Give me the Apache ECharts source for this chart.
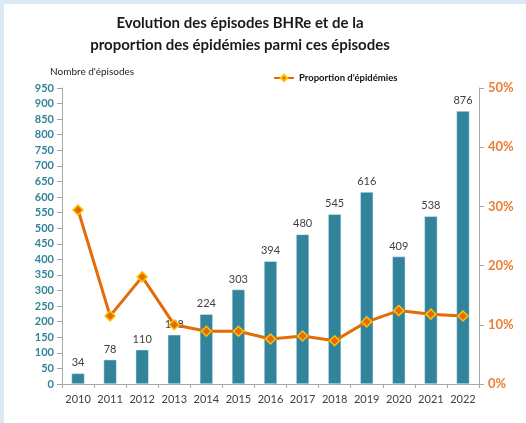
<!DOCTYPE html>
<html><head><meta charset="utf-8">
<script src="https://cdn.jsdelivr.net/npm/echarts@6/dist/echarts.min.js"></script>
<style>html,body{margin:0;padding:0;background:#dde9f5;}#c{position:absolute;left:4px;top:4px;width:522px;height:419px;background:#fff;}</style>
</head><body><div id="c"></div>
<script>
const years = ['2010','2011','2012','2013','2014','2015','2016','2017','2018','2019','2020','2021','2022'];
const episodes = [34,78,110,158,224,303,394,480,545,616,409,538,876];
const epidemicPct = [29.4,11.5,18.1,10.0,8.9,8.9,7.6,8.1,7.3,10.5,12.4,11.8,11.5];
const leftTicks = {min:0,max:950,interval:50};
const rightTicks = {min:0,max:50,interval:10};

const FONT = 'Lato, "Open Sans", sans-serif';
const chart = echarts.init(document.getElementById('c'));
chart.setOption({
  animation:false,
  textStyle:{fontFamily:FONT},
  title:[
    {text:'Evolution des épisodes BHRe et de la\nproportion des épidémies parmi ces épisodes',left:231,textAlign:'center',top:3,
     textStyle:{fontSize:15,fontWeight:'bold',color:'#1a1a1a',lineHeight:22,fontFamily:FONT}},
    {text:"Nombre d'épisodes",left:41,top:58,textStyle:{fontSize:10,fontWeight:'normal',color:'#262626',fontFamily:FONT}}
  ],
  legend:{data:[{name:"Proportion d'épidémies"}],left:264,top:64,itemWidth:20,itemHeight:8,itemGap:2,
    textStyle:{fontSize:9.5,fontWeight:'bold',color:'#111',fontFamily:FONT}},
  grid:{left:58,right:47,top:84,bottom:39},
  xAxis:{type:'category',data:years,
    axisLine:{lineStyle:{color:'#a6a6a6'}},
    axisTick:{show:true,alignWithLabel:false,lineStyle:{color:'#a6a6a6'},length:4},
    axisLabel:{color:'#404040',fontSize:11,margin:10,interval:0}},
  yAxis:[
    {type:'value',min:leftTicks.min,max:leftTicks.max,interval:leftTicks.interval,
     splitLine:{show:false},axisLine:{show:true,lineStyle:{color:'#a6a6a6'}},
     axisTick:{show:true,length:5,lineStyle:{color:'#a6a6a6'}},
     axisLabel:{color:'#31849B',fontWeight:'bold',fontSize:11,margin:8}},
    {type:'value',min:rightTicks.min,max:rightTicks.max,interval:rightTicks.interval,position:'right',
     splitLine:{show:false},axisLine:{show:true,lineStyle:{color:'#a6a6a6'}},
     axisTick:{show:true,length:5,lineStyle:{color:'#a6a6a6'}},
     axisLabel:{color:'#ED7D31',fontWeight:'bold',fontSize:13,margin:9,formatter:'{value}%'}}
  ],
  series:[
    {type:'bar',data:episodes,barWidth:13,yAxisIndex:0,
     itemStyle:{color:'#31849B',borderColor:'#e8f1f4',borderWidth:0.5},
     label:{show:true,position:'top',color:'#404040',fontSize:11,distance:5}},
    {name:"Proportion d'épidémies",type:'line',data:epidemicPct,yAxisIndex:1,z:5,
     symbol:'diamond',symbolSize:10,
     lineStyle:{color:'#E36C09',width:3},
     itemStyle:{color:'#E36C09',borderColor:'#FFC000',borderWidth:1.5}}
  ]
});
</script></body></html>
